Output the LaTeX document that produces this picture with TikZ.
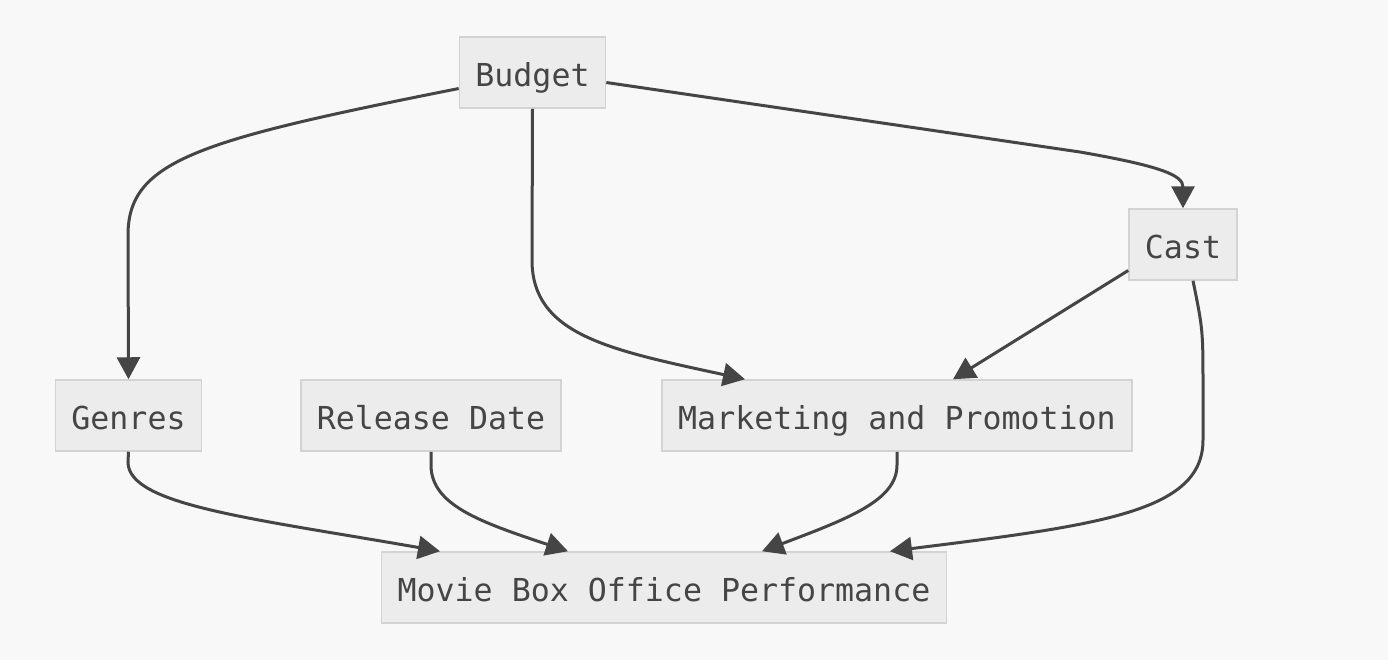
\documentclass[tikz,border=0pt]{standalone}
\usepackage{fontspec}
\setmonofont{DejaVu Sans Mono}
\usetikzlibrary{arrows.meta}
\definecolor{bgc}{HTML}{F8F8F8}
\definecolor{boxf}{HTML}{ECECEC}
\definecolor{boxd}{HTML}{D3D3D3}
\definecolor{edc}{HTML}{454545}
\begin{document}
\begin{tikzpicture}[
  every node/.style={font=\ttfamily\fontsize{15.8pt}{19pt}\selectfont,text=edc},
  box/.style={rectangle,draw=boxd,line width=0.75pt,fill=boxf,minimum height=35.5pt,
    inner xsep=8pt,text height=14.2pt,text depth=0pt},
  ed/.style={draw=edc,line width=1.5pt,-{Triangle[length=11pt,width=11.5pt]}},
  x=0.5pt,y=-0.5pt]

\useasboundingbox[fill=bgc] (0,0) rectangle (1388,660);

% ---- nodes ----
\node[box] (budget)  at (532.5,72.5)  {Budget};
\node[box] (cast)    at (1183,244.5)  {Cast};
\node[box] (genres)  at (128.5,415.5) {Genres};
\node[box] (release) at (431,415.5)   {Release Date};
\node[box] (market)  at (897,415.5)   {Marketing and Promotion};
\node[box] (movie)   at (664,587.5)   {Movie Box Office Performance};

% ---- edges from budget ----
\draw[ed] ([yshift=-8pt]budget.west) .. controls (200,140) and (128,160) .. (128,235) -- (genres.north);
\draw[ed] (budget.south) -- (532,260) .. controls (532,335) and (610,350) .. ([xshift=-76pt]market.north);
\draw[ed] ([yshift=-5pt]budget.east) -- (1080,152) .. controls (1160,166) and (1183,175) .. (cast.north);

% ---- edges from cast ----
\draw[ed] ([yshift=-13pt]cast.west) -- ([xshift=28pt]market.north);
\draw[ed] ([xshift=5pt]cast.south) .. controls (1203,330) .. (1203,390) -- (1203,440)
  .. controls (1203,512) and (1100,525) .. ([xshift=113pt]movie.north);

% ---- edges into movie ----
\draw[ed] (genres.south) -- (128,462) .. controls (128,505) and (250,518) .. ([xshift=-112pt]movie.north);
\draw[ed] (release.south) -- (431,465) .. controls (431,505) and (480,522) .. ([xshift=-48pt]movie.north);
\draw[ed] (market.south) -- (897,465) .. controls (897,500) and (850,518) .. ([xshift=49pt]movie.north);
\end{tikzpicture}
\end{document}
